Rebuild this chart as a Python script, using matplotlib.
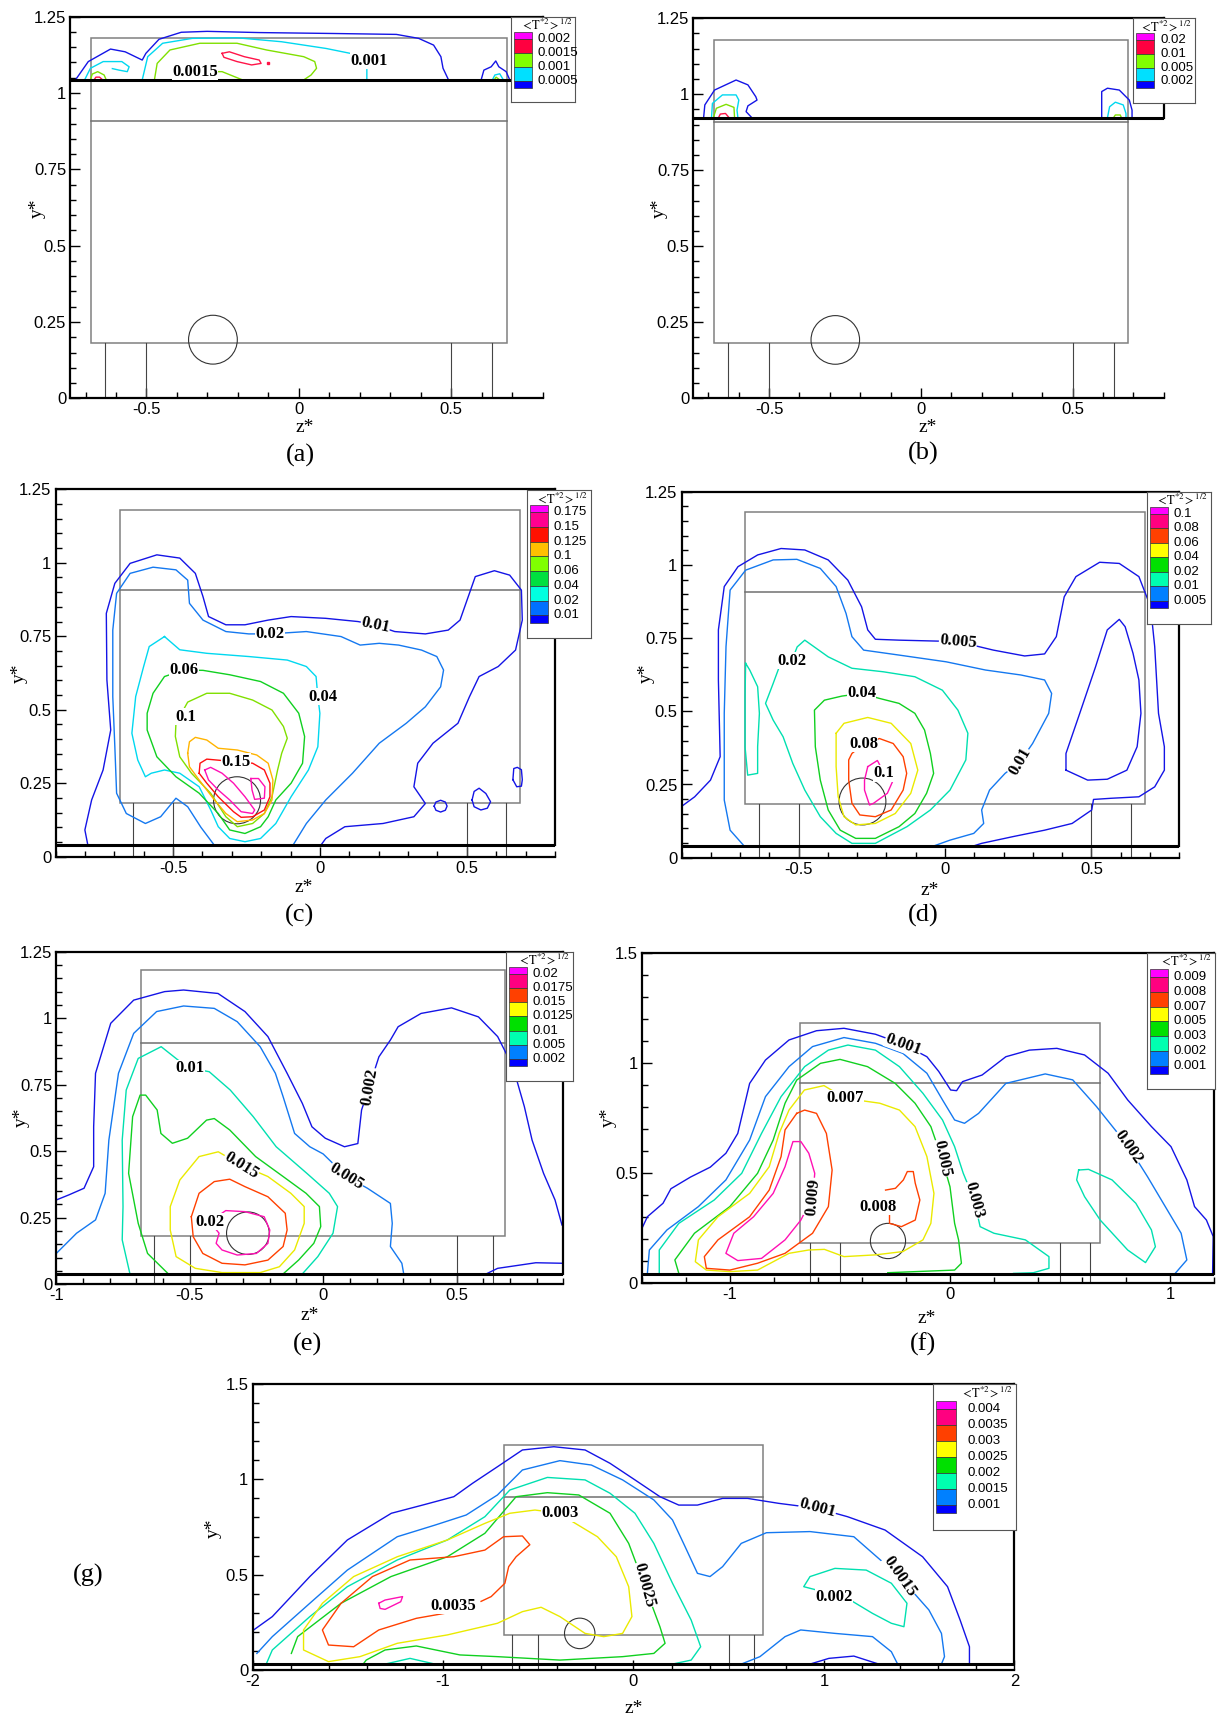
import matplotlib
matplotlib.use("Agg")
import matplotlib.pyplot as plt
from matplotlib.patches import Rectangle, Circle
from matplotlib.ticker import MultipleLocator, FuncFormatter

plt.rcParams['font.family'] = ['Liberation Sans', 'DejaVu Sans']
plt.rcParams['mathtext.fontset'] = 'stix'

# ---------------- contour lines, (z*, y*) ----------------
# panel (a)
A_BLUE_1 = [(-0.733, 1.043), (-0.691, 1.103), (-0.618, 1.144), (-0.570, 1.135), (-0.514, 1.108), (-0.502, 1.130),
            (-0.459, 1.176), (-0.386, 1.199), (-0.301, 1.202), (-0.130, 1.198), (0.113, 1.195), (0.320, 1.192),
            (0.393, 1.179), (0.442, 1.157), (0.466, 1.119), (0.473, 1.081), (0.491, 1.043)]
A_BLUE_2 = [(0.598, 1.043), (0.607, 1.075), (0.631, 1.086), (0.646, 1.105), (0.656, 1.086), (0.680, 1.070), (0.692, 1.043)]
A_CYAN_1 = [(-0.703, 1.043), (-0.684, 1.081), (-0.642, 1.103), (-0.581, 1.103), (-0.557, 1.086), (-0.563, 1.070),
            (-0.590, 1.075), (-0.612, 1.080)]
A_CYAN_2 = [(-0.514, 1.043), (-0.496, 1.119), (-0.447, 1.163), (-0.350, 1.179), (-0.203, 1.181), (-0.057, 1.168),
            (0.089, 1.146), (0.223, 1.119), (0.223, 1.086), (0.223, 1.043)]
A_CYAN_3 = [(0.635, 1.043), (0.643, 1.059), (0.659, 1.063), (0.671, 1.043)]
A_GREEN_1 = [(-0.684, 1.043), (-0.678, 1.062), (-0.660, 1.070), (-0.639, 1.059), (-0.632, 1.043)]
A_GREEN_2 = [(-0.474, 1.043), (-0.465, 1.097), (-0.423, 1.141), (-0.325, 1.163), (-0.203, 1.163), (-0.106, 1.141),
             (0.016, 1.119), (0.052, 1.103), (0.058, 1.081), (0.040, 1.059), (0.016, 1.043)]
A_GREEN_3 = [(-0.340, 1.070), (-0.252, 1.070), (-0.185, 1.043)]
A_GREEN_4 = [(0.641, 1.043), (0.647, 1.052), (0.659, 1.043)]
A_RED_1 = [(-0.252, 1.130), (-0.228, 1.135), (-0.179, 1.119), (-0.130, 1.108), (-0.124, 1.097), (-0.155, 1.092),
           (-0.203, 1.103), (-0.246, 1.117), (-0.252, 1.130)]
A_RED_2 = [(-0.672, 1.043), (-0.666, 1.052), (-0.654, 1.052), (-0.644, 1.043)]

# panel (b)
B_BLUE_1 = [(-0.716, 0.923), (-0.712, 0.965), (-0.680, 1.014), (-0.609, 1.047), (-0.570, 1.031), (-0.544, 0.992),
            (-0.540, 0.981), (-0.570, 0.962), (-0.576, 0.943), (-0.557, 0.923)]
B_CYAN_1 = [(-0.690, 0.923), (-0.687, 0.970), (-0.654, 0.998), (-0.609, 0.998), (-0.600, 0.981), (-0.606, 0.948), (-0.603, 0.923)]
B_GREEN_1 = [(-0.684, 0.923), (-0.674, 0.954), (-0.642, 0.967), (-0.616, 0.957), (-0.614, 0.923)]
B_RED_1 = [(-0.667, 0.923), (-0.661, 0.935), (-0.644, 0.937), (-0.632, 0.923)]
B_BLUE_2 = [(0.596, 0.923), (0.596, 1.009), (0.615, 1.020), (0.654, 1.014), (0.687, 0.981), (0.696, 0.948), (0.696, 0.923)]
B_CYAN_2 = [(0.615, 0.923), (0.622, 0.959), (0.641, 0.974), (0.667, 0.965), (0.676, 0.937), (0.676, 0.923)]
B_GREEN_2 = [(0.635, 0.923), (0.641, 0.932), (0.657, 0.932), (0.661, 0.923)]

# panel (c)
C_010 = [(-0.790, 0.040), (-0.800, 0.091), (-0.777, 0.193), (-0.738, 0.295), (-0.712, 0.431), (-0.725, 0.601),
         (-0.727, 0.828), (-0.698, 0.930), (-0.646, 0.998), (-0.555, 1.027), (-0.477, 1.016), (-0.424, 0.964),
         (-0.398, 0.885), (-0.379, 0.817), (-0.320, 0.789), (-0.255, 0.789), (-0.176, 0.805), (-0.098, 0.817),
         (0.020, 0.811), (0.130, 0.800), (0.189, 0.788), (0.255, 0.766), (0.359, 0.758), (0.437, 0.771),
         (0.477, 0.805), (0.509, 0.896), (0.529, 0.953), (0.594, 0.973), (0.646, 0.958), (0.686, 0.907),
         (0.689, 0.805), (0.666, 0.703), (0.607, 0.647), (0.542, 0.613), (0.509, 0.544), (0.470, 0.454),
         (0.385, 0.386), (0.333, 0.318), (0.320, 0.238), (0.359, 0.181), (0.320, 0.136), (0.215, 0.113),
         (0.085, 0.102), (0.020, 0.062), (0.004, 0.040)]
C_010_L1 = [(0.389, 0.172), (0.395, 0.186), (0.411, 0.192), (0.427, 0.186), (0.433, 0.172), (0.427, 0.158),
            (0.411, 0.152), (0.395, 0.158), (0.389, 0.172)]
C_010_L2 = [(0.518, 0.193), (0.525, 0.222), (0.542, 0.233), (0.565, 0.215), (0.581, 0.187), (0.570, 0.165),
            (0.548, 0.159), (0.525, 0.170), (0.518, 0.193)]
C_010_L3 = [(0.657, 0.262), (0.660, 0.300), (0.672, 0.304), (0.686, 0.296), (0.689, 0.262), (0.686, 0.240),
            (0.670, 0.238), (0.657, 0.262)]
C_020 = [(-0.091, 0.040), (-0.046, 0.113), (0.020, 0.193), (0.111, 0.284), (0.202, 0.386), (0.294, 0.454),
         (0.359, 0.510), (0.411, 0.578), (0.421, 0.635), (0.398, 0.681), (0.346, 0.703), (0.268, 0.720),
         (0.202, 0.726), (0.137, 0.720), (0.072, 0.749), (-0.046, 0.766), (-0.170, 0.758), (-0.242, 0.758),
         (-0.320, 0.766), (-0.398, 0.805), (-0.444, 0.862), (-0.450, 0.941), (-0.490, 0.976), (-0.568, 0.985),
         (-0.646, 0.964), (-0.692, 0.896), (-0.705, 0.771), (-0.705, 0.544), (-0.698, 0.374), (-0.692, 0.216),
         (-0.659, 0.147), (-0.594, 0.113), (-0.542, 0.136), (-0.490, 0.199), (-0.450, 0.170), (-0.405, 0.100),
         (-0.360, 0.040)]
C_040 = [(-0.529, 0.749), (-0.477, 0.704), (-0.385, 0.692), (-0.242, 0.681), (-0.111, 0.669), (-0.046, 0.647),
         (-0.013, 0.613), (-0.007, 0.545), (0.000, 0.488), (-0.007, 0.374), (-0.039, 0.295), (-0.098, 0.204),
         (-0.150, 0.113), (-0.202, 0.062), (-0.255, 0.051), (-0.307, 0.062), (-0.346, 0.102), (-0.372, 0.160),
         (-0.411, 0.238), (-0.477, 0.284), (-0.529, 0.295), (-0.574, 0.284), (-0.594, 0.272), (-0.620, 0.329),
         (-0.640, 0.420), (-0.627, 0.545), (-0.600, 0.647), (-0.581, 0.715), (-0.529, 0.749)]
C_060 = [(-0.463, 0.635), (-0.398, 0.634), (-0.307, 0.619), (-0.202, 0.596), (-0.124, 0.556), (-0.072, 0.488),
         (-0.052, 0.409), (-0.059, 0.318), (-0.098, 0.250), (-0.150, 0.193), (-0.176, 0.136), (-0.202, 0.102),
         (-0.255, 0.079), (-0.307, 0.091), (-0.346, 0.147), (-0.411, 0.216), (-0.490, 0.272), (-0.555, 0.340),
         (-0.588, 0.431), (-0.588, 0.488), (-0.568, 0.556), (-0.529, 0.613), (-0.463, 0.635)]
C_100 = [(-0.490, 0.454), (-0.450, 0.526), (-0.385, 0.556), (-0.307, 0.556), (-0.229, 0.533), (-0.163, 0.499),
         (-0.124, 0.443), (-0.111, 0.403), (-0.130, 0.352), (-0.144, 0.295), (-0.163, 0.204), (-0.189, 0.147),
         (-0.229, 0.113), (-0.281, 0.102), (-0.320, 0.136), (-0.372, 0.216), (-0.437, 0.284), (-0.477, 0.340),
         (-0.492, 0.409), (-0.490, 0.454)]
C_125 = [(-0.450, 0.352), (-0.444, 0.391), (-0.424, 0.406), (-0.385, 0.397), (-0.346, 0.369), (-0.281, 0.363),
         (-0.215, 0.346), (-0.176, 0.318), (-0.160, 0.261), (-0.163, 0.193), (-0.189, 0.147), (-0.229, 0.125),
         (-0.281, 0.119), (-0.320, 0.147), (-0.359, 0.193), (-0.411, 0.261), (-0.444, 0.306), (-0.450, 0.352)]
C_150 = [(-0.411, 0.284), (-0.408, 0.318), (-0.385, 0.332), (-0.287, 0.323), (-0.229, 0.318), (-0.189, 0.295),
         (-0.170, 0.250), (-0.170, 0.204), (-0.189, 0.159), (-0.229, 0.136), (-0.268, 0.134), (-0.294, 0.153),
         (-0.346, 0.204), (-0.385, 0.250), (-0.411, 0.284)]
C_175_A = [(-0.392, 0.295), (-0.372, 0.304), (-0.333, 0.284), (-0.294, 0.250), (-0.255, 0.204), (-0.222, 0.159),
           (-0.229, 0.147), (-0.268, 0.153), (-0.307, 0.193), (-0.346, 0.227), (-0.379, 0.261), (-0.392, 0.295)]
C_175_B = [(-0.235, 0.266), (-0.209, 0.266), (-0.187, 0.238), (-0.189, 0.199), (-0.222, 0.195), (-0.231, 0.227),
           (-0.235, 0.266)]

# panel (d)
D_005 = [(-0.900, 0.175), (-0.855, 0.208), (-0.801, 0.265), (-0.768, 0.345), (-0.774, 0.607), (-0.774, 0.778),
         (-0.754, 0.926), (-0.707, 0.994), (-0.640, 1.034), (-0.560, 1.056), (-0.479, 1.051), (-0.399, 1.017),
         (-0.332, 0.948), (-0.285, 0.857), (-0.264, 0.778), (-0.238, 0.746), (-0.157, 0.743), (0.044, 0.738),
         (0.165, 0.709), (0.272, 0.689), (0.340, 0.696), (0.380, 0.755), (0.407, 0.891), (0.447, 0.960),
         (0.528, 1.009), (0.595, 1.005), (0.662, 0.960), (0.702, 0.857), (0.716, 0.721), (0.729, 0.493),
         (0.749, 0.379), (0.749, 0.299), (0.716, 0.242), (0.662, 0.208), (0.568, 0.203), (0.507, 0.199),
         (0.501, 0.163), (0.434, 0.117), (0.340, 0.094), (0.232, 0.072), (0.125, 0.049), (0.100, 0.041)]
D_005_L = [(0.413, 0.299), (0.413, 0.356), (0.460, 0.493), (0.514, 0.652), (0.554, 0.778), (0.595, 0.814),
           (0.615, 0.789), (0.642, 0.698), (0.662, 0.607), (0.669, 0.493), (0.656, 0.379), (0.621, 0.299),
           (0.554, 0.268), (0.487, 0.265), (0.413, 0.299)]
D_010 = [(-0.687, 0.041), (-0.734, 0.094), (-0.754, 0.197), (-0.754, 0.493), (-0.748, 0.721), (-0.734, 0.914),
         (-0.681, 0.982), (-0.587, 1.017), (-0.506, 1.019), (-0.426, 0.988), (-0.372, 0.926), (-0.338, 0.834),
         (-0.318, 0.755), (-0.278, 0.709), (-0.157, 0.692), (0.004, 0.669), (0.138, 0.641), (0.259, 0.624),
         (0.340, 0.607), (0.364, 0.561), (0.354, 0.493), (0.299, 0.390), (0.256, 0.328), (0.205, 0.288),
         (0.152, 0.231), (0.125, 0.163), (0.132, 0.117), (0.098, 0.083), (0.017, 0.060), (-0.036, 0.041)]
D_020_S = [(-0.681, 0.664), (-0.667, 0.641), (-0.640, 0.584), (-0.634, 0.493), (-0.640, 0.379), (-0.640, 0.288),
           (-0.674, 0.282), (-0.683, 0.379), (-0.683, 0.550), (-0.681, 0.664)]
D_020 = [(-0.523, 0.673), (-0.566, 0.652), (-0.587, 0.595), (-0.613, 0.527), (-0.587, 0.470), (-0.553, 0.413),
         (-0.520, 0.322), (-0.479, 0.231), (-0.426, 0.140), (-0.372, 0.083), (-0.318, 0.049), (-0.238, 0.049),
         (-0.130, 0.106), (-0.050, 0.163), (0.017, 0.231), (0.071, 0.334), (0.078, 0.425), (0.044, 0.504),
         (-0.009, 0.572), (-0.103, 0.618), (-0.211, 0.635), (-0.318, 0.647), (-0.399, 0.686), (-0.479, 0.743),
         (-0.505, 0.720), (-0.523, 0.673)]
D_040 = [(-0.285, 0.561), (-0.224, 0.544), (-0.157, 0.527), (-0.103, 0.493), (-0.070, 0.436), (-0.050, 0.356),
         (-0.039, 0.288), (-0.063, 0.220), (-0.103, 0.151), (-0.157, 0.106), (-0.238, 0.066), (-0.305, 0.066),
         (-0.358, 0.094), (-0.399, 0.163), (-0.426, 0.265), (-0.443, 0.379), (-0.446, 0.504), (-0.412, 0.538),
         (-0.352, 0.552), (-0.285, 0.561)]
D_060 = [(-0.372, 0.425), (-0.345, 0.459), (-0.264, 0.479), (-0.184, 0.459), (-0.117, 0.390), (-0.093, 0.299),
         (-0.117, 0.220), (-0.170, 0.151), (-0.238, 0.117), (-0.305, 0.112), (-0.345, 0.140), (-0.365, 0.208),
         (-0.372, 0.311), (-0.372, 0.425)]
D_080 = [(-0.278, 0.388), (-0.224, 0.407), (-0.177, 0.390), (-0.143, 0.345), (-0.131, 0.288), (-0.143, 0.231),
         (-0.184, 0.163), (-0.238, 0.140), (-0.291, 0.146), (-0.318, 0.186), (-0.329, 0.265), (-0.329, 0.334),
         (-0.318, 0.356), (-0.278, 0.388)]
D_100 = [(-0.264, 0.311), (-0.231, 0.332), (-0.208, 0.288), (-0.177, 0.265), (-0.197, 0.220), (-0.244, 0.186),
         (-0.258, 0.180), (-0.275, 0.231), (-0.275, 0.265), (-0.264, 0.311)]

# panel (e)
E_002 = [(-1.000, 0.317), (-0.953, 0.336), (-0.896, 0.361), (-0.860, 0.442), (-0.860, 0.592), (-0.853, 0.793),
         (-0.796, 0.981), (-0.710, 1.068), (-0.594, 1.100), (-0.523, 1.106), (-0.394, 1.093), (-0.293, 1.025),
         (-0.207, 0.931), (-0.135, 0.793), (-0.078, 0.680), (-0.042, 0.592), (0.008, 0.549), (0.080, 0.517),
         (0.130, 0.529), (0.144, 0.655), (0.173, 0.743), (0.209, 0.855), (0.252, 0.918), (0.281, 0.968),
         (0.367, 1.018), (0.481, 1.039), (0.582, 1.005), (0.654, 0.931), (0.711, 0.818), (0.754, 0.668),
         (0.783, 0.542), (0.826, 0.417), (0.869, 0.317), (0.895, 0.223)]
E_002_B = [(0.611, 0.039), (0.654, 0.060), (0.797, 0.081), (0.900, 0.079)]
E_005 = [(-1.000, 0.116), (-0.924, 0.192), (-0.853, 0.242), (-0.817, 0.342), (-0.803, 0.542), (-0.767, 0.793),
         (-0.710, 0.943), (-0.624, 1.025), (-0.523, 1.046), (-0.408, 1.037), (-0.322, 0.987), (-0.236, 0.893),
         (-0.179, 0.793), (-0.150, 0.705), (-0.107, 0.567), (-0.050, 0.517), (0.000, 0.490), (0.087, 0.405),
         (0.166, 0.361), (0.252, 0.304), (0.259, 0.229), (0.252, 0.142), (0.295, 0.079), (0.302, 0.039)]
E_010 = [(-0.724, 0.039), (-0.753, 0.167), (-0.750, 0.292), (-0.753, 0.542), (-0.738, 0.730), (-0.693, 0.849),
         (-0.607, 0.893), (-0.544, 0.843), (-0.498, 0.812), (-0.427, 0.799), (-0.348, 0.730), (-0.262, 0.630),
         (-0.176, 0.517), (-0.061, 0.417), (0.023, 0.342), (0.054, 0.292), (0.037, 0.192), (-0.020, 0.104),
         (-0.078, 0.039)]
E_0125 = [(-0.580, 0.039), (-0.658, 0.116), (-0.693, 0.229), (-0.729, 0.417), (-0.714, 0.630), (-0.686, 0.711),
          (-0.665, 0.711), (-0.622, 0.655), (-0.608, 0.567), (-0.565, 0.530), (-0.508, 0.549), (-0.437, 0.617),
          (-0.408, 0.623), (-0.350, 0.580), (-0.253, 0.480), (-0.150, 0.405), (-0.064, 0.342), (-0.014, 0.292),
          (-0.009, 0.217), (-0.035, 0.154), (-0.092, 0.091), (-0.150, 0.039)]
E_015 = [(-0.307, 0.448), (-0.393, 0.498), (-0.465, 0.480), (-0.537, 0.392), (-0.573, 0.292), (-0.573, 0.204),
         (-0.551, 0.104), (-0.479, 0.060), (-0.379, 0.044), (-0.236, 0.044), (-0.164, 0.066), (-0.107, 0.129),
         (-0.071, 0.229), (-0.071, 0.292), (-0.121, 0.342), (-0.207, 0.405), (-0.307, 0.448)]
E_0175 = [(-0.494, 0.254), (-0.465, 0.342), (-0.408, 0.386), (-0.350, 0.395), (-0.293, 0.367), (-0.207, 0.329),
          (-0.142, 0.267), (-0.135, 0.204), (-0.150, 0.142), (-0.207, 0.091), (-0.293, 0.073), (-0.379, 0.079),
          (-0.451, 0.116), (-0.487, 0.179), (-0.494, 0.254)]
E_020 = [(-0.425, 0.235), (-0.365, 0.277), (-0.293, 0.273), (-0.221, 0.254), (-0.200, 0.204), (-0.207, 0.154),
         (-0.250, 0.116), (-0.322, 0.110), (-0.379, 0.129), (-0.401, 0.154), (-0.390, 0.192), (-0.425, 0.235)]

# panel (f)
F_001 = [(-1.397, 0.257), (-1.376, 0.302), (-1.305, 0.363), (-1.269, 0.429), (-1.180, 0.482), (-1.090, 0.527),
         (-1.019, 0.590), (-0.965, 0.680), (-0.911, 0.907), (-0.839, 1.013), (-0.732, 1.104), (-0.607, 1.146),
         (-0.482, 1.157), (-0.339, 1.130), (-0.212, 1.084), (-0.105, 1.028), (-0.051, 0.961), (0.003, 0.877),
         (0.030, 0.874), (0.057, 0.915), (0.146, 0.945), (0.254, 1.028), (0.361, 1.058), (0.486, 1.066),
         (0.612, 1.036), (0.719, 0.953), (0.808, 0.832), (0.916, 0.711), (1.005, 0.620), (1.077, 0.469),
         (1.112, 0.348), (1.166, 0.287), (1.197, 0.212), (1.194, 0.045)]
F_002 = [(-1.376, 0.045), (-1.367, 0.151), (-1.287, 0.242), (-1.144, 0.348), (-1.019, 0.469), (-0.911, 0.650),
         (-0.839, 0.847), (-0.732, 0.983), (-0.625, 1.074), (-0.482, 1.115), (-0.339, 1.089), (-0.214, 1.043),
         (-0.105, 0.953), (-0.034, 0.832), (0.021, 0.741), (0.066, 0.726), (0.130, 0.771), (0.254, 0.907),
         (0.433, 0.950), (0.558, 0.923), (0.666, 0.802), (0.812, 0.620), (0.898, 0.484), (0.970, 0.363),
         (1.051, 0.227), (1.077, 0.106), (1.024, 0.045)]
F_003 = [(-1.322, 0.045), (-1.322, 0.151), (-1.233, 0.272), (-1.072, 0.378), (-0.947, 0.499), (-0.857, 0.680),
         (-0.768, 0.847), (-0.661, 0.983), (-0.553, 1.058), (-0.464, 1.081), (-0.339, 1.058), (-0.230, 0.983),
         (-0.123, 0.862), (-0.034, 0.741), (0.021, 0.620), (0.060, 0.500), (0.110, 0.378), (0.137, 0.257),
         (0.200, 0.227), (0.343, 0.197), (0.450, 0.121), (0.450, 0.068), (0.379, 0.048), (0.289, 0.045)]
F_003_L = [(0.585, 0.514), (0.630, 0.517), (0.737, 0.469), (0.845, 0.363), (0.916, 0.242), (0.934, 0.166),
           (0.889, 0.094), (0.808, 0.151), (0.683, 0.287), (0.612, 0.393), (0.576, 0.469), (0.585, 0.514)]
F_005 = [(-1.233, 0.045), (-1.251, 0.106), (-1.162, 0.227), (-1.001, 0.348), (-0.875, 0.499), (-0.804, 0.650),
         (-0.750, 0.817), (-0.697, 0.922), (-0.589, 0.998), (-0.500, 1.016), (-0.375, 0.983), (-0.249, 0.907),
         (-0.159, 0.817), (-0.087, 0.711), (-0.037, 0.567), (0.000, 0.438), (0.021, 0.272), (0.039, 0.197),
         (0.052, 0.091), (0.021, 0.060), (-0.158, 0.053), (-0.283, 0.048)]
F_007 = [(-0.476, 0.839), (-0.573, 0.897), (-0.662, 0.877), (-0.732, 0.786), (-0.777, 0.680), (-0.822, 0.529),
         (-0.911, 0.408), (-1.055, 0.302), (-1.144, 0.197), (-1.158, 0.098), (-1.108, 0.060), (-1.001, 0.053),
         (-0.875, 0.060), (-0.732, 0.136), (-0.643, 0.151), (-0.571, 0.154), (-0.482, 0.121), (-0.339, 0.129),
         (-0.214, 0.144), (-0.123, 0.197), (-0.087, 0.272), (-0.073, 0.408), (-0.105, 0.575), (-0.159, 0.711),
         (-0.230, 0.786), (-0.319, 0.817), (-0.476, 0.839)]
F_008 = [(-0.697, 0.771), (-0.661, 0.786), (-0.607, 0.771), (-0.562, 0.680), (-0.536, 0.514), (-0.553, 0.348),
         (-0.625, 0.227), (-0.750, 0.136), (-0.875, 0.091), (-1.001, 0.060), (-1.108, 0.068), (-1.117, 0.121),
         (-1.055, 0.197), (-0.911, 0.302), (-0.822, 0.423), (-0.768, 0.575), (-0.750, 0.696), (-0.697, 0.771)]
F_008_S = [(-0.329, 0.348), (-0.275, 0.318), (-0.275, 0.272), (-0.221, 0.257), (-0.158, 0.287), (-0.137, 0.378),
           (-0.158, 0.454), (-0.167, 0.507), (-0.194, 0.507), (-0.212, 0.469), (-0.248, 0.431), (-0.293, 0.423)]
F_009 = [(-0.624, 0.393), (-0.615, 0.499), (-0.642, 0.590), (-0.678, 0.643), (-0.714, 0.643), (-0.750, 0.529),
         (-0.804, 0.408), (-0.893, 0.302), (-0.983, 0.227), (-1.019, 0.136), (-0.965, 0.103), (-0.857, 0.113),
         (-0.750, 0.197), (-0.678, 0.287), (-0.624, 0.393)]

# panel (g)
G_0010 = [(-1.994, 0.210), (-1.896, 0.280), (-1.699, 0.490), (-1.502, 0.682), (-1.271, 0.822), (-1.107, 0.865),
          (-0.943, 0.909), (-0.845, 0.979), (-0.714, 1.066), (-0.583, 1.154), (-0.418, 1.171), (-0.254, 1.154),
          (-0.123, 1.084), (0.008, 0.997), (0.139, 0.909), (0.238, 0.865), (0.336, 0.865), (0.468, 0.900),
          (0.599, 0.900), (0.763, 0.874), (0.966, 0.848), (1.124, 0.804), (1.321, 0.734), (1.518, 0.594),
          (1.649, 0.437), (1.715, 0.262), (1.764, 0.122), (1.764, 0.031)]
G_0010_B = [(0.927, 0.031), (1.026, 0.061), (1.157, 0.073), (1.288, 0.031)]
G_0015 = [(-1.977, 0.087), (-1.896, 0.175), (-1.699, 0.350), (-1.502, 0.524), (-1.240, 0.699), (-1.042, 0.760),
          (-0.878, 0.813), (-0.714, 0.918), (-0.583, 1.049), (-0.386, 1.098), (-0.221, 1.075), (-0.057, 0.997),
          (0.107, 0.892), (0.205, 0.787), (0.271, 0.647), (0.336, 0.507), (0.402, 0.490), (0.468, 0.542),
          (0.566, 0.664), (0.698, 0.720), (0.927, 0.726), (1.157, 0.699), (1.396, 0.490), (1.551, 0.315),
          (1.617, 0.192), (1.633, 0.070), (1.617, 0.031)]
G_0015_B = [(0.566, 0.031), (0.664, 0.070), (0.796, 0.175), (0.878, 0.210), (1.058, 0.192), (1.255, 0.175),
            (1.354, 0.096), (1.387, 0.031)]
G_0020 = [(-1.928, 0.031), (-1.896, 0.105), (-1.699, 0.280), (-1.502, 0.437), (-1.240, 0.577), (-0.977, 0.682),
          (-0.780, 0.804), (-0.649, 0.944), (-0.452, 1.010), (-0.254, 0.997), (-0.123, 0.927), (0.008, 0.822),
          (0.107, 0.664), (0.205, 0.455), (0.303, 0.262), (0.353, 0.122), (0.303, 0.052), (0.205, 0.031)]
G_0020_B = [(-1.304, 0.031), (-1.173, 0.061), (-1.042, 0.031)]
G_0020_L = [(1.051, 0.385), (0.960, 0.420), (0.894, 0.437), (0.927, 0.490), (1.058, 0.533), (1.222, 0.524),
            (1.354, 0.455), (1.436, 0.350), (1.420, 0.227), (1.354, 0.245), (1.255, 0.297), (1.150, 0.360),
            (1.051, 0.385)]
G_0025 = [(-1.796, 0.087), (-1.763, 0.175), (-1.535, 0.350), (-1.273, 0.490), (-0.977, 0.594), (-0.780, 0.717),
          (-0.616, 0.909), (-0.452, 0.930), (-0.287, 0.918), (-0.123, 0.822), (-0.025, 0.664), (0.057, 0.446),
          (0.139, 0.227), (0.166, 0.140), (0.107, 0.087), (-0.057, 0.070), (-0.386, 0.052), (-0.714, 0.070),
          (-0.911, 0.079), (-1.140, 0.126), (-1.304, 0.105), (-1.403, 0.052), (-1.419, 0.031)]
G_0030 = [(-0.386, 0.822), (-0.517, 0.839), (-0.649, 0.822), (-0.780, 0.769), (-0.977, 0.682), (-1.240, 0.594),
          (-1.469, 0.490), (-1.633, 0.350), (-1.732, 0.210), (-1.732, 0.105), (-1.601, 0.044), (-1.436, 0.070),
          (-1.240, 0.140), (-0.977, 0.184), (-0.714, 0.245), (-0.583, 0.306), (-0.485, 0.329), (-0.386, 0.280),
          (-0.254, 0.192), (-0.156, 0.175), (-0.057, 0.192), (-0.008, 0.280), (-0.025, 0.437), (-0.090, 0.594),
          (-0.189, 0.699), (-0.320, 0.778), (-0.386, 0.822)]
G_0035 = [(-0.944, 0.336), (-0.992, 0.297), (-1.140, 0.271), (-1.337, 0.210), (-1.469, 0.122), (-1.601, 0.131),
          (-1.633, 0.210), (-1.535, 0.350), (-1.370, 0.490), (-1.173, 0.577), (-0.944, 0.594), (-0.780, 0.629),
          (-0.682, 0.699), (-0.583, 0.703), (-0.544, 0.657), (-0.616, 0.594), (-0.655, 0.542), (-0.675, 0.455),
          (-0.747, 0.385), (-0.800, 0.360)]
G_0040 = [(-1.337, 0.350), (-1.304, 0.367), (-1.212, 0.385), (-1.222, 0.358), (-1.304, 0.318), (-1.330, 0.323),
          (-1.337, 0.350)]

# legend entries (top to bottom)
LEG_A = ['0.002', '0.0015', '0.001', '0.0005']
LEG_B = ['0.02', '0.01', '0.005', '0.002']
LEG_C = ['0.175', '0.15', '0.125', '0.1', '0.06', '0.04', '0.02', '0.01']
LEG_D = ['0.1', '0.08', '0.06', '0.04', '0.02', '0.01', '0.005']
LEG_E = ['0.02', '0.0175', '0.015', '0.0125', '0.01', '0.005', '0.002']
LEG_F = ['0.009', '0.008', '0.007', '0.005', '0.003', '0.002', '0.001']
LEG_G = ['0.004', '0.0035', '0.003', '0.0025', '0.002', '0.0015', '0.001']

# ---------------- styles ----------------
BLUE, MBLUE, CYAN, AQUA = '#1414e6', '#1478f0', '#00d8f0', '#00e0b0'
LIME, GREEN, YELLOW, ORANGE = '#80e000', '#10d020', '#eaea00', '#ff4000'
AMBER, RED, CRIMSON, PINK = '#ffb400', '#ff1010', '#ff1448', '#ff10b4'
SW5 = ['#ff00ff', '#ff0040', '#80ff00', '#00e0ff', '#0000ff']
SW9 = ['#ff00ff', '#ff0090', '#ff1000', '#ffc000', '#80ff00', '#00e040', '#00ffe0', '#0070ff', '#0000ff']
SW8 = ['#ff00ff', '#ff0080', '#ff4000', '#ffff00', '#00e000', '#00ffb0', '#0080ff', '#0000ff']

SERIF = 'Liberation Serif'
W, H = 1217, 1717
fig = plt.figure(figsize=(W / 100, H / 100), dpi=100)


def frac(l, t, r, b):
    return [l / W, 1 - b / H, (r - l) / W, (b - t) / H]


def fmt(v, p):
    v = round(v, 3)
    return '0' if abs(v) < 1e-9 else f'{v:g}'


def panel(box, xlim, ylim, xmaj, xmin_, ymaj, ymin_, wall):
    ax = fig.add_axes(frac(*box))
    ax.set_xlim(xlim)
    ax.set_ylim(ylim)
    ax.xaxis.set_major_locator(MultipleLocator(xmaj))
    ax.xaxis.set_minor_locator(MultipleLocator(xmin_))
    ax.yaxis.set_major_locator(MultipleLocator(ymaj))
    ax.yaxis.set_minor_locator(MultipleLocator(ymin_))
    ax.xaxis.set_major_formatter(FuncFormatter(fmt))
    ax.yaxis.set_major_formatter(FuncFormatter(fmt))
    ax.tick_params(which='both', direction='in', top=False, right=False, labelsize=12, width=1)
    ax.tick_params(which='major', length=7, pad=3)
    ax.tick_params(which='minor', length=4)
    for s in ax.spines.values():
        s.set_linewidth(1.6)
    ax.spines['right'].set_bounds(wall, ylim[1])
    ax.axhline(wall, color='k', lw=2.2, zorder=5)
    # model geometry
    ax.add_patch(Rectangle((-0.682, 0.182), 1.364, 0.998, fill=False, ec='#808080', lw=1.1))
    ax.plot([-0.682, 0.682], [0.908, 0.908], color='#707070', lw=1.1)
    ax.add_patch(Circle((-0.282, 0.192), 0.08, fill=False, ec='#333333', lw=0.8))
    for x in (-0.635, -0.5, 0.5, 0.635):
        ax.plot([x, x], [0, 0.182], color='#444444', lw=0.8)
    return ax


def draw(ax, line, color):
    z, y = zip(*line)
    ax.plot(z, y, color=color, lw=1.0, solid_joinstyle='round')


def lab(ax, x, y, s, rot=0):
    ax.text(x, y, s, rotation=rot, ha='center', va='center', fontsize=12, fontweight='bold',
            family=SERIF, zorder=6, bbox=dict(fc='white', ec='none', pad=0.2))


def legend(box, colors, labels, sw_top, step, sw_w=18, tx=27):
    l, t, r, b = box
    lax = fig.add_axes(frac(l, t, r, b))
    lax.set_xlim(0, r - l)
    lax.set_ylim(b - t, 0)
    lax.set_xticks([])
    lax.set_yticks([])
    for s in lax.spines.values():
        s.set_linewidth(0.8)
        s.set_color('#555555')
    y = sw_top - t
    n = len(labels)
    heights = [step / 2] + [step] * (n - 1) + [step / 2]
    for c, h in zip(colors, heights):
        lax.add_patch(Rectangle((3, y), sw_w, h, fc=c, ec='#333333', lw=0.5))
        y += h
    for k, s in enumerate(labels):
        lax.text(tx, sw_top - t + step / 2 + k * step, s, va='center', fontsize=9.5)
    lax.text(r - l - 3, 8, r'$<\!\mathrm{T}^{*2}\!>^{1/2}$', ha='right', va='center', fontsize=9)


def ftext(x, y, s, size, rot=0):
    fig.text(x / W, 1 - y / H, s, ha='center', va='center', fontsize=size, family=SERIF, rotation=rot)


# ---------------- (a) ----------------
ax = panel((70.3, 16.7, 542.7, 398.3), (-0.75, 0.8), (0, 1.25), 0.5, 0.1, 0.25, 0.05, 1.043)
for ln in (A_BLUE_1, A_BLUE_2):
    draw(ax, ln, BLUE)
for ln in (A_CYAN_1, A_CYAN_2, A_CYAN_3):
    draw(ax, ln, CYAN)
for ln in (A_GREEN_1, A_GREEN_2, A_GREEN_3, A_GREEN_4):
    draw(ax, ln, LIME)
for ln in (A_RED_1, A_RED_2):
    draw(ax, ln, CRIMSON)
ax.plot([-0.102], [1.099], 's', ms=1.5, color=CRIMSON)
lab(ax, -0.340, 1.070, '0.0015')
lab(ax, 0.229, 1.106, '0.001')
legend((510.5, 16.7, 575.3, 102.3), SW5, LEG_A, 31.7, 14.0)

# ---------------- (b) ----------------
ax = panel((693.3, 18.3, 1163.6, 398.3), (-0.75, 0.8), (0, 1.25), 0.5, 0.1, 0.25, 0.05, 0.923)
for ln in (B_BLUE_1, B_BLUE_2):
    draw(ax, ln, BLUE)
for ln in (B_CYAN_1, B_CYAN_2):
    draw(ax, ln, CYAN)
for ln in (B_GREEN_1, B_GREEN_2):
    draw(ax, ln, LIME)
draw(ax, B_RED_1, CRIMSON)
legend((1133.3, 18.3, 1195, 103.3), SW5, LEG_B, 33.3, 13.75)

# ---------------- (c) ----------------
ax = panel((55.5, 489.3, 554.9, 856.7), (-0.9, 0.8), (0, 1.25), 0.5, 0.1, 0.25, 0.05, 0.04)
for ln in (C_010, C_010_L1, C_010_L2, C_010_L3):
    draw(ax, ln, BLUE)
draw(ax, C_020, MBLUE)
draw(ax, C_040, CYAN)
draw(ax, C_060, GREEN)
draw(ax, C_100, LIME)
draw(ax, C_125, AMBER)
draw(ax, C_150, RED)
draw(ax, C_175_A, PINK)
draw(ax, C_175_B, PINK)
lab(ax, 0.189, 0.788, '0.01', -12)
lab(ax, -0.170, 0.758, '0.02')
lab(ax, 0.009, 0.545, '0.04')
lab(ax, -0.463, 0.635, '0.06')
lab(ax, -0.457, 0.476, '0.1')
lab(ax, -0.287, 0.323, '0.15')
legend((526.6, 490, 590.5, 638.3), SW9, LEG_C, 505, 14.7)

# ---------------- (d) ----------------
ax = panel((681.5, 491.7, 1179.3, 857.7), (-0.9, 0.8), (0, 1.25), 0.5, 0.1, 0.25, 0.05, 0.041)
draw(ax, D_005, BLUE)
draw(ax, D_005_L, BLUE)
draw(ax, D_010, MBLUE)
draw(ax, D_020_S, AQUA)
draw(ax, D_020, AQUA)
draw(ax, D_040, GREEN)
draw(ax, D_060, YELLOW)
draw(ax, D_080, ORANGE)
draw(ax, D_100, PINK)
lab(ax, 0.044, 0.738, '0.005', -5)
lab(ax, 0.256, 0.328, '0.01', 60)
lab(ax, -0.523, 0.673, '0.02')
lab(ax, -0.285, 0.561, '0.04')
lab(ax, -0.278, 0.388, '0.08')
lab(ax, -0.208, 0.288, '0.1')
legend((1147, 491.7, 1210.8, 624), SW8, LEG_D, 506.7, 14.5)

# ---------------- (e) ----------------
ax = panel((56.3, 951.7, 563.3, 1284.3), (-1.0, 0.9), (0, 1.25), 0.5, 0.1, 0.25, 0.05, 0.039)
draw(ax, E_002, BLUE)
draw(ax, E_002_B, BLUE)
draw(ax, E_005, MBLUE)
draw(ax, E_010, AQUA)
draw(ax, E_0125, GREEN)
draw(ax, E_015, YELLOW)
draw(ax, E_0175, ORANGE)
draw(ax, E_020, PINK)
lab(ax, 0.173, 0.743, '0.002', 80)
lab(ax, 0.087, 0.405, '0.005', -32)
lab(ax, -0.498, 0.812, '0.01')
lab(ax, -0.307, 0.448, '0.015', -32)
lab(ax, -0.425, 0.235, '0.02')
legend((505.9, 951.7, 572.9, 1081), SW8, LEG_E, 966.7, 14.2)

# ---------------- (f) ----------------
ax = panel((642.1, 952.7, 1213.9, 1283.3), (-1.4, 1.2), (0, 1.5), 1, 0.2, 0.5, 0.1, 0.042)
draw(ax, F_001, BLUE)
draw(ax, F_002, MBLUE)
draw(ax, F_003, AQUA)
draw(ax, F_003_L, AQUA)
draw(ax, F_005, GREEN)
draw(ax, F_007, YELLOW)
draw(ax, F_008, ORANGE)
draw(ax, F_008_S, ORANGE)
draw(ax, F_009, PINK)
lab(ax, -0.212, 1.084, '0.001', -20)
lab(ax, 0.812, 0.620, '0.002', -55)
lab(ax, 0.110, 0.378, '0.003', -75)
lab(ax, -0.037, 0.567, '0.005', -78)
lab(ax, -0.476, 0.839, '0.007')
lab(ax, -0.329, 0.348, '0.008')
lab(ax, -0.624, 0.393, '0.009', 85)
legend((1147, 952.7, 1214.7, 1089.3), SW8, LEG_F, 969.3, 14.9)

# ---------------- (g) ----------------
ax = panel((252.5, 1384, 1014.4, 1670), (-2, 2), (0, 1.5), 1, 0.2, 0.5, 0.1, 0.031)
draw(ax, G_0010, BLUE)
draw(ax, G_0010_B, BLUE)
draw(ax, G_0015, MBLUE)
draw(ax, G_0015_B, MBLUE)
draw(ax, G_0020, AQUA)
draw(ax, G_0020_B, AQUA)
draw(ax, G_0020_L, AQUA)
draw(ax, G_0025, GREEN)
draw(ax, G_0030, YELLOW)
draw(ax, G_0035, ORANGE)
draw(ax, G_0040, PINK)
lab(ax, 0.966, 0.848, '0.001', -15)
lab(ax, 1.396, 0.490, '0.0015', -55)
lab(ax, 1.051, 0.385, '0.002')
lab(ax, 0.057, 0.446, '0.0025', -75)
lab(ax, -0.386, 0.822, '0.003')
lab(ax, -0.944, 0.336, '0.0035')
legend((933, 1384, 1016, 1530), SW8, LEG_G, 1400.7, 16.0, sw_w=20, tx=34)

# ---------------- axis titles and panel letters ----------------
for x, y in [(305, 428), (928, 428), (304, 888), (930, 890), (310, 1315), (927, 1318), (634, 1708)]:
    ftext(x, y, 'z*', 14)
for x, y in [(37, 208), (659, 208), (19, 673), (646, 673), (21, 1117), (608, 1117), (213, 1528)]:
    ftext(x, y, 'y*', 14, rot=90)
for x, y, s in [(300, 455, '(a)'), (923, 453, '(b)'), (300, 915, '(c)'), (923, 915, '(d)'),
                (308, 1344, '(e)'), (923, 1344, '(f)'), (88, 1575, '(g)')]:
    ftext(x, y, s, 19)

fig.savefig('out.png', dpi=100)
